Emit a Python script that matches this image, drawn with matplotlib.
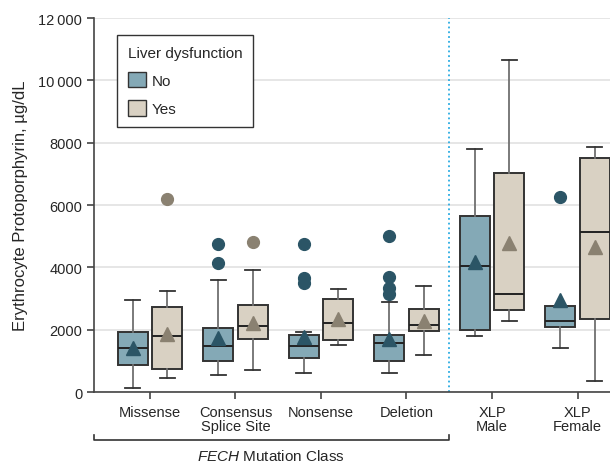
import matplotlib.pyplot as plt
from matplotlib.patches import Patch

plt.rcParams['font.family'] = ['Liberation Sans', 'DejaVu Sans']
plt.rcParams['mathtext.fontset'] = 'custom'
plt.rcParams['mathtext.rm'] = 'Liberation Sans'
plt.rcParams['mathtext.it'] = 'Liberation Sans:italic'

categories = ["Missense", "Consensus\nSplice Site", "Nonsense", "Deletion", "XLP\nMale", "XLP\nFemale"]

# liver dysfunction: No
no_lo = [120, 550, 610, 600, 1810, 1400]
no_q1 = [870, 990, 1100, 990, 1980, 2070]
no_med = [1400, 1480, 1480, 1560, 4030, 2280]
no_q3 = [1910, 2040, 1840, 1840, 5640, 2770]
no_hi = [2950, 3590, 1930, 2880, 7790, 2770]
no_mean = [1400, 1720, 1780, 1700, 4180, 2950]
no_out = [[], [4750, 4130], [4750, 3650, 3500], [5020, 3700, 3330, 3150], [], [6250]]

# liver dysfunction: Yes
yes_lo = [450, 710, 1520, 1200, 2280, 340]
yes_q1 = [740, 1700, 1660, 1950, 2620, 2340]
yes_med = [1810, 2120, 2200, 2140, 3140, 5140]
yes_q3 = [2740, 2790, 3000, 2660, 7040, 7520]
yes_hi = [3240, 3920, 3290, 3390, 10640, 7860]
yes_mean = [1850, 2200, 2330, 2270, 4780, 4640]
yes_out = [[6200], [4800], [], [], [], []]

no_fill, no_dark = "#84a9b6", "#2b5566"
yes_fill, yes_dark = "#d9d1c3", "#8a8171"
txt = "#262626"


def stats(lo, q1, med, q3, hi, mean, out):
    return [dict(whislo=a, q1=b, med=c, q3=d, whishi=e, mean=f, fliers=g)
            for a, b, c, d, e, f, g in zip(lo, q1, med, q3, hi, mean, out)]


fig = plt.figure(figsize=(6.1, 4.64), dpi=100)
ax = fig.add_axes([0.154, 0.153, 0.846, 0.806])

pos = list(range(len(categories)))
for st, off, fill, dark in [
        (stats(no_lo, no_q1, no_med, no_q3, no_hi, no_mean, no_out), -0.2, no_fill, no_dark),
        (stats(yes_lo, yes_q1, yes_med, yes_q3, yes_hi, yes_mean, yes_out), 0.2, yes_fill, yes_dark)]:
    ax.bxp(st, positions=[p + off for p in pos], widths=0.35, patch_artist=True,
           showmeans=True, showfliers=True,
           boxprops=dict(facecolor=fill, edgecolor="#333333", linewidth=1.4),
           medianprops=dict(color="#222222", linewidth=1.4),
           whiskerprops=dict(color="#707070", linewidth=1.3),
           capprops=dict(color="#333333", linewidth=1.3),
           meanprops=dict(marker="^", markerfacecolor=dark, markeredgecolor=dark, markersize=10),
           flierprops=dict(marker="o", markerfacecolor=dark, markeredgecolor=dark, markersize=8.5),
           zorder=3)

ax.set_xlim(-0.655, 5.38)
ax.set_ylim(0, 12000)
ax.set_yticks(range(0, 12001, 2000))
ax.set_yticklabels(["0", "2000", "4000", "6000", "8000", "10\u2009000", "12\u2009000"])
ax.set_xticks(pos)
ax.set_xticklabels(categories, linespacing=1.0)
ax.tick_params(labelsize=10.5, colors="#444444", labelcolor=txt, length=5, width=1.2)
ax.tick_params(axis="x", pad=4)
ax.yaxis.grid(True, color="#e2e2e2", linewidth=1.2, zorder=0)
ax.set_axisbelow(True)
for s in ["top", "right"]:
    ax.spines[s].set_visible(False)
for s in ["left", "bottom"]:
    ax.spines[s].set_color("#444444")
    ax.spines[s].set_linewidth(1.2)

ax.set_ylabel("Erythrocyte Protoporphyrin, \u00b5g/dL", fontsize=12, color=txt, labelpad=7)

ax.axvline(3.5, color="#29abe2", linestyle=":", linewidth=1.3, zorder=1)

# bracket under the FECH categories
tr = ax.get_xaxis_transform()
ax.plot([-0.655, -0.655, 3.5, 3.5], [-0.115, -0.128, -0.128, -0.115], transform=tr,
        color="#333333", linewidth=1.2, clip_on=False)
ax.text(1.42, -0.17, r"$\mathit{FECH}$ Mutation Class", transform=tr, ha="center", va="center",
        fontsize=11, color=txt)

handles = [Patch(facecolor=no_fill, edgecolor="#333333", label="No"),
           Patch(facecolor=yes_fill, edgecolor="#333333", label="Yes")]
leg = ax.legend(handles=handles, title="Liver dysfunction", loc="upper left",
                bbox_to_anchor=(0.045, 0.955), borderaxespad=0, fancybox=False,
                edgecolor="#333333", fontsize=11, title_fontsize=11,
                handlelength=1.2, handleheight=1.2, handletextpad=0.35, labelspacing=0.8,
                borderpad=0.7, framealpha=1)
leg.get_frame().set_linewidth(1.0)
leg._legend_box.align = "left"
for t in leg.get_texts() + [leg.get_title()]:
    t.set_color(txt)

fig.savefig("out.png", dpi=100)
